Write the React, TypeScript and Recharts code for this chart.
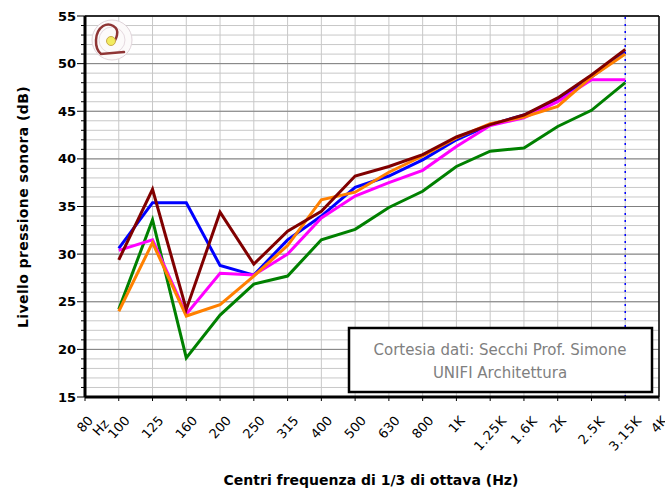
import React from "react";
import {
  LineChart,
  Line,
  XAxis,
  YAxis,
  CartesianGrid,
  ReferenceLine,
} from "recharts";

const freqs = ["80", "100", "125", "160", "200", "250", "315", "400", "500", "630", "800", "1K", "1.25K", "1.6K", "2K", "2.5K", "3.15K", "4K"];

const blue = [null, 30.6, 35.4, 35.4, 28.8, 27.8, 31.5, 34.0, 37.0, 38.2, 39.9, 42.0, 43.6, 44.6, 46.2, 48.6, 51.3, null];
const green = [null, 24.2, 33.6, 19.1, 23.6, 26.85, 27.7, 31.5, 32.6, 34.9, 36.6, 39.2, 40.8, 41.15, 43.4, 45.1, 48.0, null];
const magenta = [null, 30.4, 31.5, 23.7, 28.0, 27.8, 30.0, 33.8, 36.1, 37.5, 38.8, 41.3, 43.5, 44.3, 46.0, 48.3, 48.3, null];
const orange = [null, 24.0, 31.2, 23.5, 24.7, 27.7, 30.9, 35.7, 36.5, 38.6, 40.3, 42.2, 43.7, 44.4, 45.5, 48.6, 51.0, null];
const brown = [null, 29.4, 36.8, 24.2, 34.4, 28.95, 32.4, 34.5, 38.2, 39.2, 40.45, 42.3, 43.6, 44.6, 46.4, 48.8, 51.5, null];

const yTicks = [15, 16, 17, 18, 19, 20, 21, 22, 23, 24, 25, 26, 27, 28, 29, 30, 31, 32, 33, 34, 35, 36, 37, 38, 39, 40, 41, 42, 43, 44, 45, 46, 47, 48, 49, 50, 51, 52, 53, 54, 55];
const yMajor = [15, 20, 25, 30, 35, 40, 45, 50, 55];

const data = freqs.map((f, i) => ({
  freq: f,
  blue: blue[i],
  green: green[i],
  magenta: magenta[i],
  orange: orange[i],
  brown: brown[i],
}));

const AXIS_X = 85;
const TICK_FONT = 13;
const ANGLE = 48;

// rough text length for rotated label centring
function labelWidth(s: string) {
  let w = 0;
  for (const c of s) {
    if (c === ".") w += 0.55;
    else if (c === "K") w += 0.68;
    else w += 0.64;
  }
  return w * TICK_FONT;
}

function YTick(props: any) {
  const { y, payload } = props;
  const major = yMajor.includes(payload.value);
  return (
    <g>
      <line x1={AXIS_X - (major ? 8 : 4)} x2={AXIS_X} y1={y} y2={y} stroke="#000" strokeWidth={1} />
      {major && (
        <text
          x={AXIS_X - 9}
          y={y}
          textAnchor="end"
          dominantBaseline="central"
          fontFamily="DejaVu Sans"
          fontWeight="bold"
          fontSize={13}
          fill="#000"
        >
          {payload.value}
        </text>
      )}
    </g>
  );
}

function XTick(props: any) {
  const { x, y, payload } = props;
  const label: string = payload.value;
  const rad = (ANGLE * Math.PI) / 180;
  const L = labelWidth(label);
  const h = 9;
  const top = y + 12;
  const cy = top + (L * Math.sin(rad) + h * Math.cos(rad)) / 2;
  return (
    <g transform={`translate(${x},${cy}) rotate(-${ANGLE})`}>
      <text
        x={0}
        y={0}
        textAnchor="middle"
        dominantBaseline="central"
        fontFamily="DejaVu Sans"
        fontSize={TICK_FONT}
        letterSpacing={label.includes(".") ? 0.8 : 0}
        fill="#000"
      >
        {label}
      </text>
      {label === "80" && (
        <text
          x={8}
          y={14}
          textAnchor="middle"
          dominantBaseline="central"
          fontFamily="DejaVu Sans"
          fontSize={TICK_FONT}
          fill="#000"
        >
          Hz
        </text>
      )}
    </g>
  );
}

export default function App() {
  return (
    <div style={{ position: "absolute", left: 0, top: 0, width: 665, height: 491, background: "#fff" }}>
      <LineChart
        width={665}
        height={491}
        data={data}
        margin={{ top: 16, right: 6, bottom: 0, left: 0 }}
      >
        <CartesianGrid stroke="#c8c8c8" strokeWidth={1} />
        {yMajor.map((v) => (
          <ReferenceLine key={v} y={v} stroke="#808080" strokeWidth={1} />
        ))}
        <ReferenceLine y={55} stroke="#000" strokeWidth={1.5} />
        <ReferenceLine x="4K" stroke="#000" strokeWidth={1.5} />
        <ReferenceLine x="3.15K" stroke="#0000ff" strokeWidth={1.5} strokeDasharray="2 5" />
        <XAxis
          dataKey="freq"
          scale="point"
          padding={{ left: 0, right: 0 }}
          interval={0}
          height={94}
          axisLine={{ stroke: "#000", strokeWidth: 3 }}
          tickLine={{ stroke: "#000" }}
          tickSize={4}
          tick={<XTick />}
        />
        <YAxis
          type="number"
          domain={[15, 55]}
          ticks={yTicks}
          interval={0}
          width={85}
          allowDataOverflow
          axisLine={{ stroke: "#000", strokeWidth: 3 }}
          tickLine={false}
          tick={<YTick />}
        />
        <Line dataKey="blue" stroke="#0000ff" strokeWidth={3} dot={false} isAnimationActive={false} />
        <Line dataKey="green" stroke="#008000" strokeWidth={3} dot={false} isAnimationActive={false} />
        <Line dataKey="magenta" stroke="#ff00ff" strokeWidth={3} dot={false} isAnimationActive={false} />
        <Line dataKey="orange" stroke="#ff8000" strokeWidth={3} dot={false} isAnimationActive={false} />
        <Line dataKey="brown" stroke="#800000" strokeWidth={3} dot={false} isAnimationActive={false} />
      </LineChart>
      <svg
        width={665}
        height={491}
        style={{ position: "absolute", left: 0, top: 0, pointerEvents: "none" }}
      >
        <text
          x={23}
          y={207}
          transform="rotate(-90 23 207)"
          textAnchor="middle"
          dominantBaseline="central"
          fontFamily="DejaVu Sans"
          fontWeight="bold"
          fontSize={14}
          letterSpacing={0.4}
          fill="#000"
        >
          Livello pressione sonora (dB)
        </text>
        <text
          x={371}
          y={480}
          textAnchor="middle"
          dominantBaseline="central"
          fontFamily="DejaVu Sans"
          fontWeight="bold"
          fontSize={14}
          fill="#000"
        >
          Centri frequenza di 1/3 di ottava (Hz)
        </text>
        {/* logo */}
        <g>
          <circle cx={112} cy={40} r={20} fill="#fcfafa" stroke="#e0d4da" strokeWidth={1} />
          <circle cx={112} cy={40} r={13} fill="none" stroke="#e6dae0" strokeWidth={1} />
          <path
            d="M124 52 L101 54 C94 48 94 32 103 26 C110 22 119 27 117 35 C116 40 114 42 112 43"
            fill="none"
            stroke="#8f3535"
            strokeWidth={2.5}
            strokeLinecap="round"
          />
          <circle cx={111} cy={41} r={4.5} fill="#f2ec60" stroke="#c9a94a" strokeWidth={1} />
        </g>
        {/* credit box */}
        <rect x={349} y={328} width={303} height={64} fill="#fff" stroke="#000" strokeWidth={2.5} />
        <text x={500} y={350} textAnchor="middle" dominantBaseline="central" fontFamily="DejaVu Sans" fontSize={15} fill="#808080">
          Cortesia dati: Secchi Prof. Simone
        </text>
        <text x={500} y={373} textAnchor="middle" dominantBaseline="central" fontFamily="DejaVu Sans" fontSize={15} fill="#808080">
          UNIFI Architettura
        </text>
      </svg>
    </div>
  );
}
